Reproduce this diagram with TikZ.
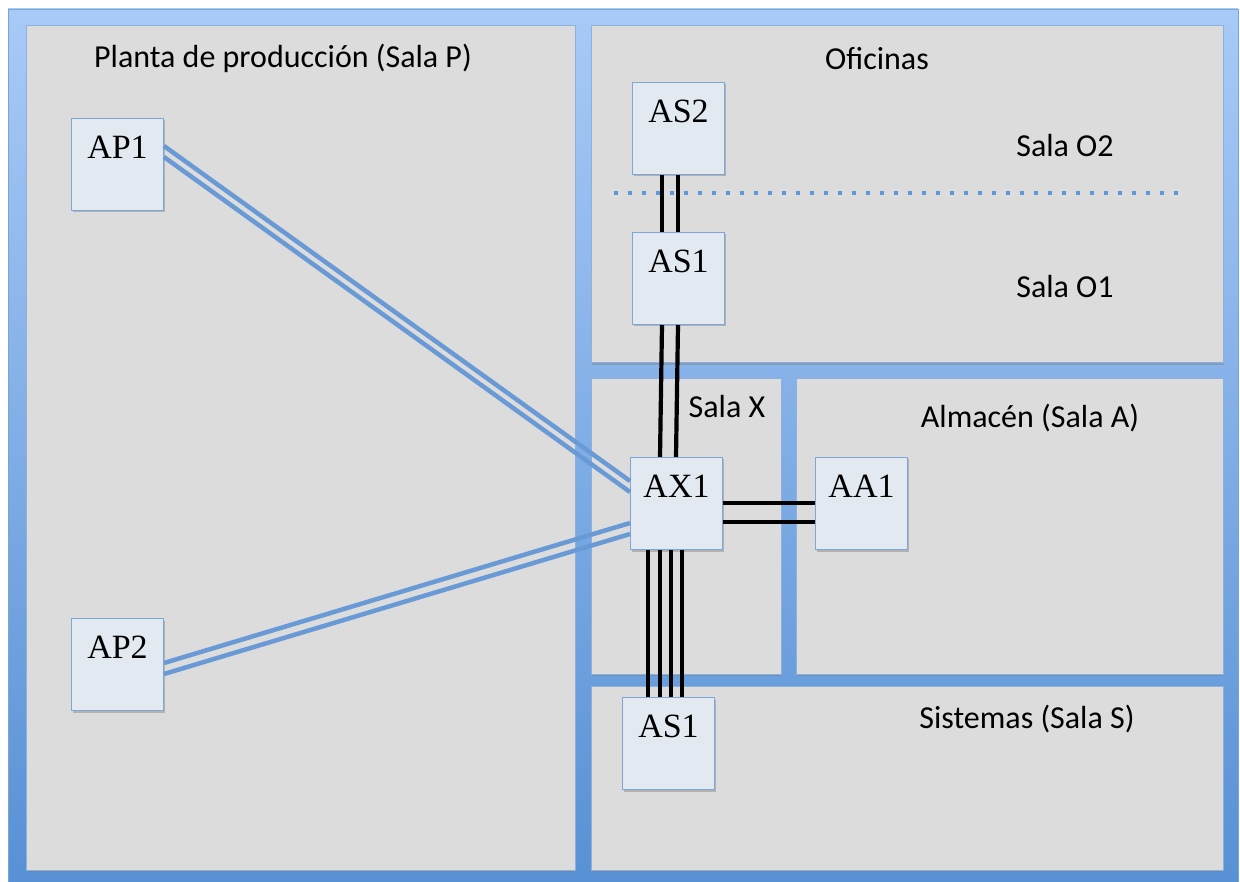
\documentclass[tikz,border=0pt]{standalone}
\usepackage{fontspec}
\setmainfont{Carlito}
\newfontfamily\boxfont{Liberation Serif}
\usetikzlibrary{positioning, calc, shadows}
\definecolor{outertop}{HTML}{A8CAF7}
\definecolor{outerbot}{HTML}{5790D4}
\definecolor{outeredge}{HTML}{7BA3D3}
\definecolor{roomgray}{HTML}{DCDCDC}
\definecolor{roomedge}{HTML}{8DB1DE}
\definecolor{boxfill}{HTML}{E2E9F1}
\definecolor{boxedge}{HTML}{7EA6D8}
\definecolor{cableblue}{HTML}{6A9AD5}
\definecolor{dotblue}{HTML}{5F97D8}
\tikzstyle{room} = [fill=roomgray, draw=roomedge, line width=1pt, drop shadow={shadow xshift=1pt, shadow yshift=-2pt, opacity=0.45}]
\tikzstyle{apbox} = [rectangle, fill=boxfill, draw=boxedge, line width=1pt, minimum width=92pt, inner sep=0pt, text height=40pt, text depth=52pt, font=\boxfont\fontsize{34}{38}\selectfont, drop shadow={shadow xshift=1pt, shadow yshift=-2pt, opacity=0.45}]
\tikzstyle{roomlabel} = [anchor=base, inner sep=0pt, font=\fontsize{32}{36}\selectfont]
\tikzstyle{cable} = [draw=cableblue, line width=4.5pt]
\tikzstyle{wire} = [draw=black, line width=4.2pt]
\tikzstyle{divider} = [draw=dotblue, line width=3.6pt, dash pattern=on 3.6pt off 10.4pt]

\begin{document}
\begin{tikzpicture}[x=1pt, y=-1pt]
  \useasboundingbox (0,0) rectangle (1240,882);

  % Frame and rooms
  \draw[draw=outeredge, top color=outertop, bottom color=outerbot] (8,9) rectangle (1238,892);
  \draw[room] (26,26) rectangle (575,870);
  \draw[room] (591,26) rectangle (1223,363);
  \draw[room] (591,379) rectangle (781,674);
  \draw[room] (796,379) rectangle (1223,674);
  \draw[room] (591,686) rectangle (1223,870);

  \node[roomlabel] (lbl_p) at (283,68) {Planta de producción (Sala P)};
  \node[roomlabel] (lbl_o) at (877,70) {Oficinas};
  \node[roomlabel] (lbl_o2) at (1065,157) {Sala O2};
  \node[roomlabel] (lbl_o1) at (1065,298) {Sala O1};
  \node[roomlabel] (lbl_x) at (727,418) {Sala X};
  \node[roomlabel] (lbl_a) at (1030,428) {Almacén (Sala A)};
  \node[roomlabel] (lbl_s) at (1027,728) {Sistemas (Sala S)};

  % Switches
  \node[apbox, anchor=north west] (ap1) at (71,118) {AP1};
  \node[apbox, anchor=north west] (ap2) at (71,618) {AP2};
  \node[apbox, anchor=north west] (as2) at (632,82) {AS2};
  \node[apbox, anchor=north west] (as1o) at (632,232) {AS1};
  \node[apbox, anchor=north west] (ax1) at (630,457) {AX1};
  \node[apbox, anchor=north west] (aa1) at (815,457) {AA1};
  \node[apbox, anchor=north west] (as1s) at (622,697) {AS1};

  % Blue links to the production floor
  \draw[cable] ([yshift=-28pt]ap1.north east) -- ([yshift=-24pt]ax1.north west);
  \draw[cable] ([yshift=-39pt]ap1.north east) -- ([yshift=-35pt]ax1.north west);
  \draw[cable] ([yshift=-45pt]ap2.north east) -- ([yshift=-66pt]ax1.north west);
  \draw[cable] ([yshift=-56pt]ap2.north east) -- ([yshift=-77pt]ax1.north west);

  % Black links
  \draw[wire] ([xshift=30pt]as2.south west) -- ([xshift=30pt]as2.south west |- as1o.north);
  \draw[wire] ([xshift=46pt]as2.south west) -- ([xshift=46pt]as2.south west |- as1o.north);
  \draw[wire] ([xshift=30pt]as1o.south west) -- ([xshift=30pt]ax1.north west);
  \draw[wire] ([xshift=46pt]as1o.south west) -- ([xshift=46pt]ax1.north west);
  \draw[wire] ([yshift=-46pt]ax1.north east) -- ([yshift=-46pt]ax1.north east -| aa1.west);
  \draw[wire] ([yshift=-65pt]ax1.north east) -- ([yshift=-65pt]ax1.north east -| aa1.west);
  \foreach \dx in {18,30,41,52}
    \draw[wire] ([xshift=\dx pt]ax1.south west) -- ([xshift=\dx pt]ax1.south west |- as1s.north);

  % Room divider in the offices
  \draw[divider] (614,193) -- (1186,193);

\end{tikzpicture}
\end{document}
